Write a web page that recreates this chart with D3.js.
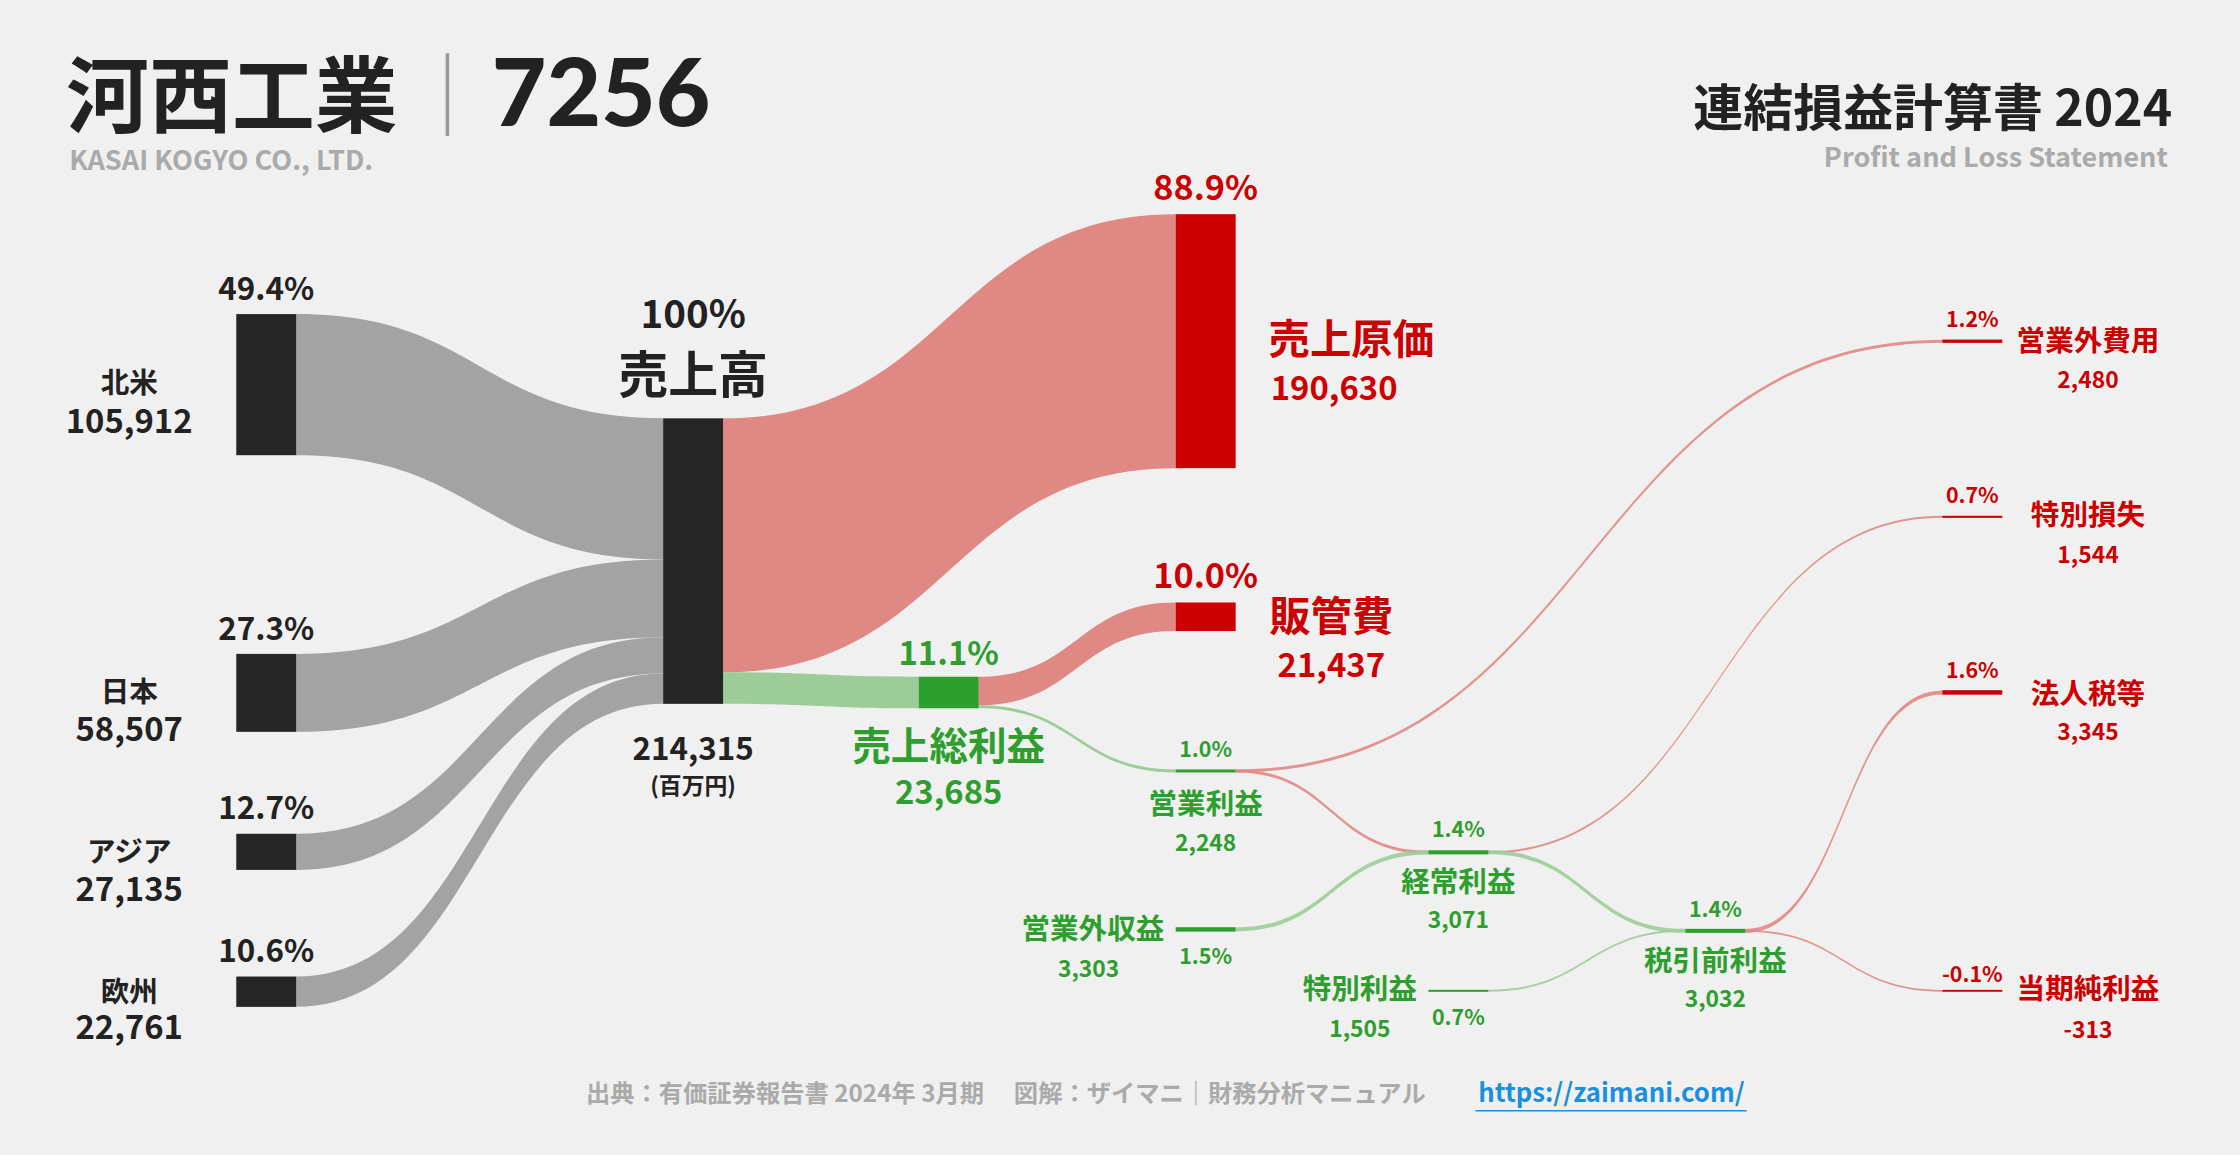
<!DOCTYPE html>
<html><head><meta charset="utf-8">
<script src="https://cdn.jsdelivr.net/npm/d3@7"></script>
<style>body{margin:0;background:#f0f0f0}svg{display:block}text{font-family:"Noto Sans CJK JP","Noto Sans",sans-serif;font-weight:700}</style>
</head><body><svg id="c" width="2240" height="1155" viewBox="0 0 1568 809"></svg>
<script>
// ---- data ----
const regions = ["北米","日本","アジア","欧州"];
const regionValues = [105912,58507,27135,22761];
const regionPct = ["49.4%","27.3%","12.7%","10.6%"];
const revenue = 214315;
const costNames = ["売上原価","販管費"];
const costValues = [190630,21437];
const costPct = ["88.9%","10.0%"];
const grossProfit = 23685, grossPct = "11.1%";
const smallNames = ["営業利益","営業外収益","経常利益","特別利益","税引前利益","営業外費用","特別損失","法人税等","当期純利益"];
const smallValues = [2248,3303,3071,1505,3032,2480,1544,3345,-313];
const smallPct = ["1.0%","1.5%","1.4%","0.7%","1.4%","1.2%","0.7%","1.6%","-0.1%"];

const RED="#cc0000", REDF="#e08884", GRN="#2e9e2e", GRNF="#9ccd98", DARK="#262626", GRAYF="#a3a3a3";
const svg = d3.select("#c");
svg.append("rect").attr("width",1568).attr("height",809).attr("fill","#f0f0f0");
const k = d3.scaleLinear().domain([0,revenue]).range([0,200]);
const fmt = v => d3.format(",")(v).replace("−","-");
const W = 42;
function ribbon(x0,a0,b0,x1,a1,b1){const m=(x0+x1)/2;
 return `M${x0},${a0}C${m},${a0} ${m},${a1} ${x1},${a1}L${x1},${b1}C${m},${b1} ${m},${b0} ${x0},${b0}Z`;}
const gL=svg.append("g"), gN=svg.append("g"), gT=svg.append("g");
function txt(x,y,s,size,fill,anchor="middle",w=700){return gT.append("text").attr("x",x).attr("y",y).attr("font-size",size).attr("fill",fill).attr("text-anchor",anchor).attr("font-weight",w).text(s);}

// titles
const t=txt(46,88,"",58,"#222","start",900);
t.append("tspan").text("河西工業");
t.append("tspan").attr("fill","#999").attr("font-weight",400).attr("dx",6).text("｜");
t.append("tspan").attr("font-family","Lato").attr("font-weight",900).attr("font-size",66).attr("dx",2).text("7256");
txt(48,119,"KASAI KOGYO CO., LTD.",19,"#aaa","start");
txt(1521,88,"連結損益計算書 2024",35,"#222","end",900);
txt(1518,117,"Profit and Loss Statement",19,"#aaa","end");

// revenue node
const revX=464, revY=293;
const regY=[220,458,584,684];
const nameY=[[275,303],[492,519],[604,631],[702,728]];
let acc=revY;
regions.forEach((r,i)=>{
 const h=k(regionValues[i]);
 gL.append("path").attr("d",ribbon(165+W,regY[i],regY[i]+h,revX,acc,acc+h)).attr("fill",GRAYF);
 gN.append("rect").attr("x",165).attr("y",regY[i]).attr("width",W).attr("height",h).attr("fill",DARK);
 txt(186,regY[i]-10,regionPct[i],22,"#222");
 txt(90,nameY[i][0],r,20,"#222");
 txt(90,nameY[i][1],fmt(regionValues[i]),23,"#222");
 acc+=h;
});
gN.append("rect").attr("x",revX).attr("y",revY).attr("width",W).attr("height",k(revenue)).attr("fill",DARK);
txt(485,230,"100%",27,"#222"); txt(485,275,"売上高",35,"#222");
txt(485,532,fmt(revenue),22,"#222"); txt(485,556,"(百万円)",16,"#222");

const cX=823, cY=[150,422];
const hC=k(costValues[0]);
gL.append("path").attr("d",ribbon(revX+W,revY,revY+hC,cX,cY[0],cY[0]+hC)).attr("fill",REDF);
gN.append("rect").attr("x",cX).attr("y",cY[0]).attr("width",W).attr("height",hC).attr("fill",RED);
const gpX=643, gpY=474, hG=k(grossProfit);
gL.append("path").attr("d",ribbon(revX+W,revY+hC,revY+hC+hG,gpX,gpY,gpY+hG)).attr("fill",GRNF);
gN.append("rect").attr("x",gpX).attr("y",gpY).attr("width",W).attr("height",hG).attr("fill",GRN);
const hS=k(costValues[1]);
gL.append("path").attr("d",ribbon(gpX+W,gpY,gpY+hS,cX,cY[1],cY[1]+hS)).attr("fill",REDF);
gN.append("rect").attr("x",cX).attr("y",cY[1]).attr("width",W).attr("height",hS).attr("fill",RED);
txt(844,140,costPct[0],24,RED); txt(946,248,costNames[0],29,RED); txt(934,280,fmt(costValues[0]),23,RED);
txt(844,412,costPct[1],24,RED); txt(932,442,costNames[1],29,RED); txt(932,474,fmt(costValues[1]),23,RED);
txt(664,466,grossPct,23,GRN); txt(664,532,"売上総利益",27,GRN); txt(664,563,fmt(grossProfit),23,GRN);

const pos=[[823,540],[823,651],[1000,597],[1000,694],[1180,652],[1360,239],[1360,362],[1360,485],[1360,694]];
const col=[GRN,GRN,GRN,GRN,GRN,RED,RED,RED,RED];
function h(i){return Math.max(1.3,k(Math.abs(smallValues[i])));}
const hO=k(smallValues[0]);
gL.append("path").attr("d",ribbon(gpX+W,gpY+hS,gpY+hS+Math.max(hO,1.3),pos[0][0],pos[0][1]-h(0)/2,pos[0][1]+h(0)/2)).attr("fill",GRNF);
const links=[[0,2,REDF],[0,5,REDF],[1,2,GRNF],[2,6,REDF],[2,4,GRNF],[3,4,GRNF],[4,7,REDF],[4,8,REDF]];
links.forEach(([s,t,c])=>{
 const v=Math.max(1.3,Math.min(h(s),h(t)));
 gL.append("path").attr("d",ribbon(pos[s][0]+W,pos[s][1]-v/2,pos[s][1]+v/2,pos[t][0],pos[t][1]-v/2,pos[t][1]+v/2)).attr("fill",c).attr("opacity",0.9);
});
pos.forEach((p,i)=>{gN.append("rect").attr("x",p[0]).attr("y",p[1]-h(i)/2).attr("width",W).attr("height",h(i)).attr("fill",col[i]);});
txt(844,530,smallPct[0],15,GRN); txt(844,570,smallNames[0],20,GRN); txt(844,596,fmt(smallValues[0]),16,GRN);
txt(815,658,smallNames[1],20,GRN,"end"); txt(762,684,fmt(smallValues[1]),16,GRN); txt(844,675,smallPct[1],15,GRN);
txt(1021,586,smallPct[2],15,GRN); txt(1021,625,smallNames[2],20,GRN); txt(1021,650,fmt(smallValues[2]),16,GRN);
txt(952,700,smallNames[3],20,GRN); txt(952,726,fmt(smallValues[3]),16,GRN); txt(1021,718,smallPct[3],15,GRN);
txt(1201,642,smallPct[4],15,GRN); txt(1201,680,smallNames[4],20,GRN); txt(1201,705,fmt(smallValues[4]),16,GRN);
[[5,229,246,272],[6,352,368,394],[7,475,493,518],[8,688,700,727]].forEach(([i,a,b,c])=>{
 txt(1381,a,smallPct[i],15,RED); txt(1462,b,smallNames[i],20,RED); txt(1462,c,fmt(smallValues[i]),16,RED);
});

txt(410,772,"出典：有価証券報告書 2024年 3月期　 図解：ザイマニ｜財務分析マニュアル",17,"#aaa","start");
txt(1035,772,"https://zaimani.com/",18,"#1a8fe0","start");
gT.append("line").attr("x1",1033).attr("x2",1223).attr("y1",778).attr("y2",778).attr("stroke","#1a8fe0").attr("stroke-width",1);
</script></body></html>
